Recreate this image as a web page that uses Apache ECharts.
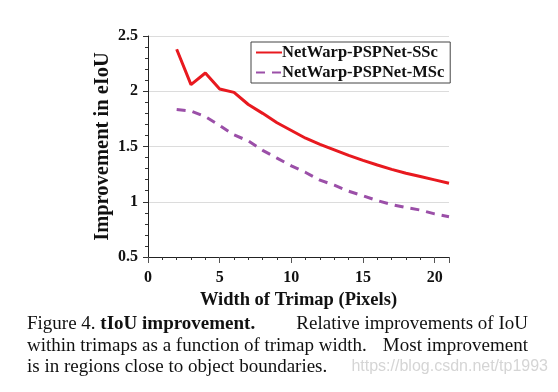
<!DOCTYPE html>
<html>
<head>
<meta charset="utf-8">
<script src="https://cdn.jsdelivr.net/npm/echarts@6/dist/echarts.min.js"></script>
<style>
html,body{margin:0;padding:0;background:#fff;}
#chart{width:558px;height:392px;}
</style>
</head>
<body>
<div id="chart"></div>
<script>
const widths = [2,3,4,5,6,7,8,9,10,11,12,13,14,15,16,17,18,19,20,21];
const sscValues = [2.38,2.06,2.165,2.02,1.99,1.88,1.80,1.715,1.645,1.575,1.52,1.47,1.42,1.375,1.333,1.293,1.258,1.228,1.198,1.168];
const mscValues = [1.835,1.82,1.77,1.69,1.605,1.55,1.465,1.395,1.325,1.265,1.195,1.15,1.095,1.055,1.01,0.975,0.947,0.925,0.89,0.865];
const seriesNames = ['NetWarp-PSPNet-SSc','NetWarp-PSPNet-MSc'];
const xTitle = 'Width of Trimap (Pixels)';
const yTitle = 'Improvement in eIoU';

const serif = '"Liberation Serif", "Times New Roman", serif';
const chart = echarts.init(document.getElementById('chart'));
const pairs = (vals) => widths.map((w, i) => [w, vals[i]]);
const capFont = 19;

chart.setOption({
  animation: false,
  backgroundColor: '#fff',
  grid: {left: 148, right: 109, top: 36, bottom: 135, containLabel: false},
  legend: {
    orient: 'vertical',
    left: 251, top: 42,
    padding: [2, 6, 2, 4],
    itemGap: 3,
    itemWidth: 26, itemHeight: 14,
    borderColor: '#444', borderWidth: 1,
    backgroundColor: '#fff',
    itemStyle: {opacity: 0},
    textStyle: {fontFamily: serif, fontWeight: 'bold', fontSize: 16.5, color: '#111', padding: [0,0,0,-5]},
    data: seriesNames
  },
  xAxis: [{
    type: 'value', min: 0, max: 21, interval: 1,
    axisLine: {lineStyle: {color: '#222', width: 1}},
    axisTick: {length: 3, lineStyle: {color: '#333'}},
    splitLine: {show: false},
    axisLabel: {
      formatter: v => (v % 5 === 0 && v <= 20) ? String(v) : '',
      fontFamily: serif, fontWeight: 'bold', fontSize: 16, color: '#111', margin: 13
    },
    name: xTitle, nameLocation: 'middle', nameGap: 31,
    nameTextStyle: {fontFamily: serif, fontWeight: 'bold', fontSize: 18.5, color: '#111'}
  }, {
    type: 'value', min: 0, max: 21, position: 'bottom', interval: 5,
    axisLine: {show: false},
    axisTick: {length: 6, lineStyle: {color: '#555'}},
    axisLabel: {show: false}, splitLine: {show: false}
  }],
  yAxis: {
    type: 'value', min: 0.5, max: 2.5, interval: 0.5,
    axisLine: {show: true, lineStyle: {color: '#222', width: 1}},
    axisTick: {show: true, length: 5, lineStyle: {color: '#333'}},
    minorTick: {show: true, splitNumber: 5, length: 3, lineStyle: {color: '#333'}},
    splitLine: {show: true, lineStyle: {color: '#dcdcdc', width: 1}},
    axisLabel: {fontFamily: serif, fontWeight: 'bold', fontSize: 16, color: '#111', margin: 10},
    name: yTitle, nameLocation: 'middle', nameGap: 35, nameMoveOverlap: false,
    nameTextStyle: {fontFamily: serif, fontWeight: 'bold', fontSize: 20.5, color: '#111'}
  },
  series: [{
    name: seriesNames[0], type: 'line', data: pairs(sscValues),
    showSymbol: false, symbol: 'none',
    lineStyle: {color: '#e8191f', width: 3},
    itemStyle: {color: '#e8191f'}
  }, {
    name: seriesNames[1], type: 'line', data: pairs(mscValues),
    showSymbol: false, symbol: 'none',
    lineStyle: {color: '#9b4fa8', width: 3, type: [9, 7]},
    itemStyle: {color: '#9b4fa8'}
  }],
  graphic: [
    {type: 'text', left: 27, top: 315, style: {
      text: '{r|Figure 4. }{b|tIoU improvement.}',
      rich: {
        r: {fontFamily: serif, fontSize: capFont, fill: '#111'},
        b: {fontFamily: serif, fontSize: capFont, fontWeight: 'bold', fill: '#111'}
      }
    }},
    {type: 'text', right: 30, top: 315, style: {text: 'Relative improvements of IoU', fontFamily: serif, fontSize: capFont, fill: '#111', align: 'right'}},
    {type: 'text', left: 27, top: 337, style: {text: 'within trimaps as a function of trimap width.', fontFamily: serif, fontSize: capFont, fill: '#111'}},
    {type: 'text', right: 30, top: 337, style: {text: 'Most improvement', fontFamily: serif, fontSize: capFont, fill: '#111', align: 'right'}},
    {type: 'text', left: 27, top: 358, style: {text: 'is in regions close to object boundaries.', fontFamily: serif, fontSize: capFont, fill: '#111'}},
    {type: 'text', right: 10, top: 359, style: {text: 'https://blog.csdn.net/tp1993', fontFamily: '"Liberation Sans", Arial, sans-serif', fontSize: 16, fill: '#d5d5d5', align: 'right'}}
  ]
});
</script>
</body>
</html>
